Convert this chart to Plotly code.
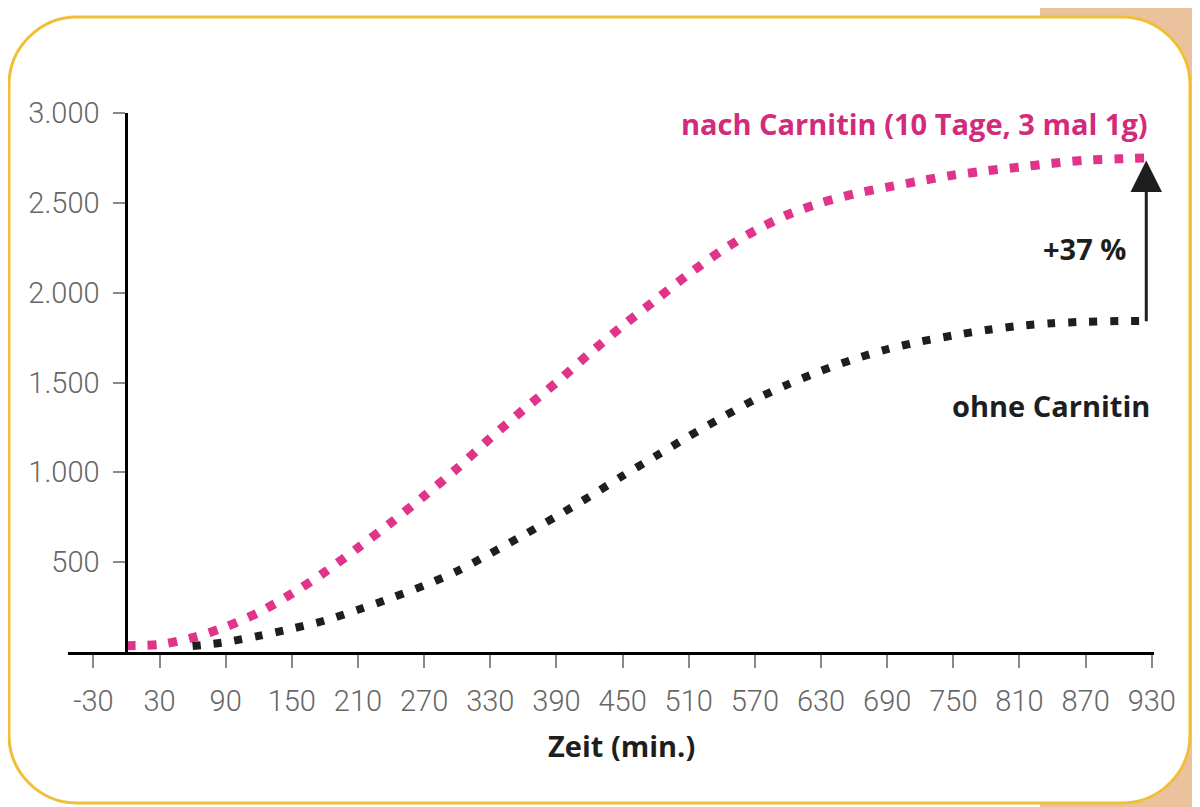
import plotly.graph_objects as go

# ---- data ----
x_nach = [0, 30, 60, 90, 120, 150, 180, 210, 240, 270, 300, 330, 360, 390, 420, 450,
          480, 510, 540, 570, 600, 630, 660, 690, 720, 750, 780, 810, 840, 870, 900, 925]
y_nach = [35, 42, 80, 140, 220, 325, 445, 580, 720, 868, 1022, 1190, 1348, 1500, 1662, 1815,
          1960, 2104, 2235, 2345, 2435, 2500, 2550, 2587, 2622, 2654, 2678, 2699, 2720, 2737, 2745, 2750]

x_ohne = [60, 90, 120, 150, 180, 210, 240, 270, 300, 330, 360, 390, 420, 450, 480, 510,
          540, 570, 600, 630, 660, 690, 720, 750, 780, 810, 840, 870, 900, 925]
y_ohne = [33, 55, 90, 130, 175, 235, 300, 370, 450, 548, 650, 755, 865, 980, 1090, 1200,
          1305, 1405, 1490, 1565, 1630, 1685, 1728, 1762, 1792, 1815, 1830, 1838, 1842, 1843]

x_ticks = [-30, 30, 90, 150, 210, 270, 330, 390, 450, 510, 570, 630, 690, 750, 810, 870, 930]
x_tick_labels = [str(v) for v in x_ticks]
y_ticks = [500, 1000, 1500, 2000, 2500, 3000]
y_tick_labels = ["500", "1.000", "1.500", "2.000", "2.500", "3.000"]

label_nach = "nach Carnitin (10 Tage, 3 mal 1g)"
label_ohne = "ohne Carnitin"
label_pct = "+37 %"
x_title = "Zeit (min.)"

PINK = "#e0338a"
PINK_TXT = "#d22b7c"
DARK = "#1e1e1e"
GRAY = "#666666"
BOLD_FONT = "Open Sans"

OFF = 8  # page body margin
W, H = 1192, 799
ML, MR, MT, MB = 60, 46, 105, 155
XMIN, XMAX = -53, 932
PW, PH = W - ML - MR, H - MT - MB


def px2paper(sx, sy):
    fx, fy = sx - OFF, sy - OFF
    return (fx - ML) / PW, (H - MB - fy) / PH


def rounded_path(x0, y0, x1, y1, r):
    k = 0.55 * r

    def P(px, py):
        a, b = px2paper(px, py)
        return f"{a:.5f},{b:.5f}"
    d = f"M{P(x0 + r, y0)} L{P(x1 - r, y0)} "
    d += f"C{P(x1 - r + k, y0)} {P(x1, y0 + r - k)} {P(x1, y0 + r)} "
    d += f"L{P(x1, y1 - r)} "
    d += f"C{P(x1, y1 - r + k)} {P(x1 - r + k, y1)} {P(x1 - r, y1)} "
    d += f"L{P(x0 + r, y1)} "
    d += f"C{P(x0 + r - k, y1)} {P(x0, y1 - r + k)} {P(x0, y1 - r)} "
    d += f"L{P(x0, y0 + r)} "
    d += f"C{P(x0, y0 + r - k)} {P(x0 + r - k, y0)} {P(x0 + r, y0)} Z"
    return d


fig = go.Figure()

fig.add_trace(go.Scatter(
    x=x_nach, y=y_nach, mode="lines",
    line=dict(color=PINK, width=9, dash="9px,12px", shape="spline", smoothing=0.8),
    hoverinfo="skip", showlegend=False, cliponaxis=False))
fig.add_trace(go.Scatter(
    x=x_ohne, y=y_ohne, mode="lines",
    line=dict(color=DARK, width=8, dash="8px,13px", shape="spline", smoothing=0.8),
    hoverinfo="skip", showlegend=False, cliponaxis=False))

# background decoration: peach edge and rounded frame
bx0, by0 = px2paper(1040, 0)
bx1, by1 = px2paper(1200 + OFF, 807 + OFF)
shapes = [
    dict(type="rect", xref="paper", yref="paper", x0=bx0, y0=by0, x1=bx1, y1=by1,
         fillcolor="#ecc29e", line=dict(width=0), layer="below"),
    dict(type="path", xref="paper", yref="paper", path=rounded_path(9, 17, 1190, 803, 68),
         fillcolor="white", line=dict(color="#f0bf3a", width=3), layer="below"),
]

annotations = [
    dict(x=928, y=2944, xref="x", yref="y", text=f"<b>{label_nach}</b>", showarrow=False,
         xanchor="right", yanchor="middle", font=dict(family=BOLD_FONT, size=29, color=PINK_TXT)),
    dict(x=930, y=1370, xref="x", yref="y", text=f"<b>{label_ohne}</b>", showarrow=False,
         xanchor="right", yanchor="middle", font=dict(family=BOLD_FONT, size=29, color=DARK)),
    dict(x=869, y=2245, xref="x", yref="y", text=f"<b>{label_pct}</b>", showarrow=False,
         xanchor="center", yanchor="middle", font=dict(family=BOLD_FONT, size=29, color=DARK)),
    dict(x=x_nach[-1], y=y_nach[-1] - 15, ax=x_ohne[-1], ay=y_ohne[-1] - 10,
         xref="x", yref="y", axref="x", ayref="y", text="", showarrow=True,
         arrowhead=2, arrowsize=2.1, arrowwidth=3, arrowcolor=DARK, standoff=0, startstandoff=0),
    dict(x=449, y=px2paper(0, 745)[1], xref="x", yref="paper", text=f"<b>{x_title}</b>", showarrow=False,
         xanchor="center", yanchor="middle", font=dict(family=BOLD_FONT, size=29, color=DARK)),
]

fig.update_layout(
    width=W, height=H,
    margin=dict(l=ML, r=MR, t=MT, b=MB, pad=0),
    paper_bgcolor="white", plot_bgcolor="rgba(0,0,0,0)",
    shapes=shapes, annotations=annotations,
    xaxis=dict(range=[XMIN, XMAX], tickvals=x_ticks, ticktext=x_tick_labels,
               showline=True, linecolor="black", linewidth=3, showgrid=False, zeroline=False,
               ticks="outside", ticklen=13, tickwidth=1.5, tickcolor="#8a8a8a",
               tickfont=dict(family="Roboto", size=29, color=GRAY, weight=300), ticklabelstandoff=8),
    yaxis=dict(range=[0, 3000], tickvals=y_ticks, ticktext=y_tick_labels,
               anchor="free", position=(0 - XMIN) / (XMAX - XMIN),
               showline=True, linecolor="black", linewidth=3, showgrid=False, zeroline=False,
               ticks="outside", ticklen=12, tickwidth=1.5, tickcolor="#8a8a8a",
               tickfont=dict(family="Roboto", size=29, color=GRAY, weight=300), ticklabelstandoff=8),
)

fig.write_html("out.html")
